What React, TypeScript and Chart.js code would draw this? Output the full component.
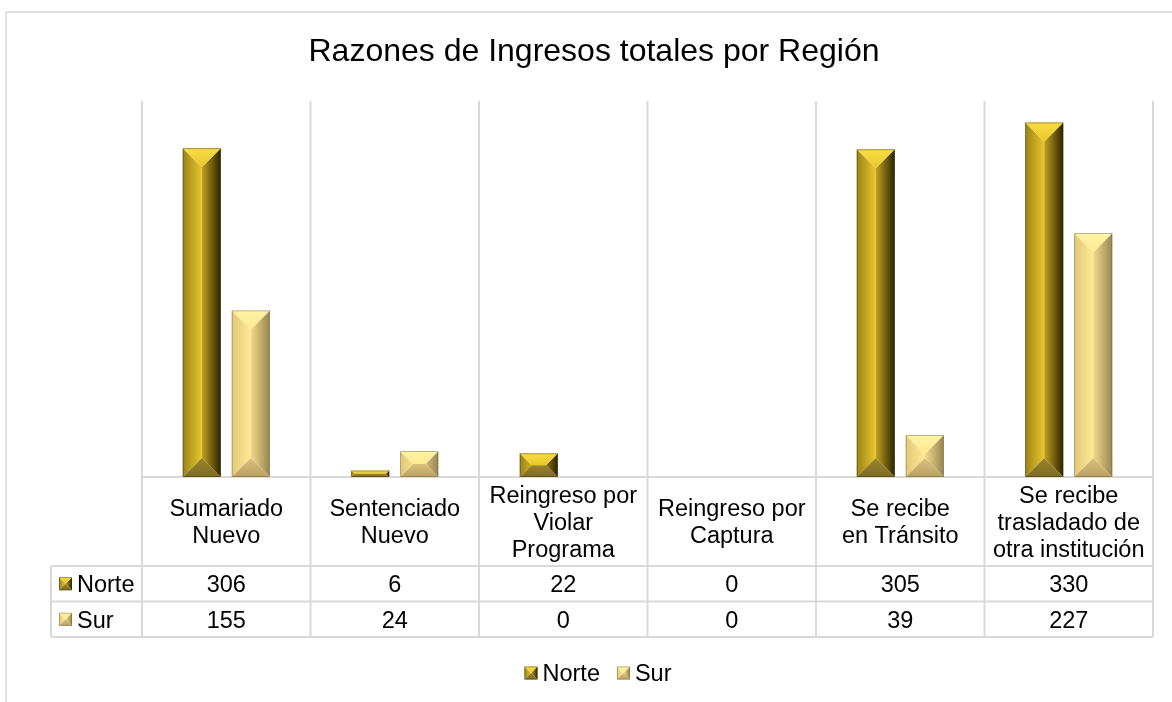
import React, { useEffect, useRef } from "react";
import { Chart, registerables } from "chart.js";

Chart.register(...registerables);

// ---------- data ----------
const chartTitle = "Razones de Ingresos totales por Región";
const categoryLines: string[][] = [
  ["Sumariado", "Nuevo"],
  ["Sentenciado", "Nuevo"],
  ["Reingreso por", "Violar", "Programa"],
  ["Reingreso por", "Captura"],
  ["Se recibe", "en Tránsito"],
  ["Se recibe", "trasladado de", "otra institución"],
];
const categories = categoryLines.map((l) => l.join(" "));
const seriesNames = ["Norte", "Sur"];
const norteValues = [306, 6, 22, 0, 305, 330];
const surValues = [155, 24, 0, 0, 39, 227];
const yMax = 350;

// ---------- styles ----------
type Pal = {
  top0: string; top1: string;
  bot0: string; bot1: string;
  left0: string; left1: string;
  right0: string; right1: string;
  edge: string;
};
const palettes: Pal[] = [
  {
    top0: "#f8dc44", top1: "#e9c62a",
    bot0: "#9a852a", bot1: "#7c6a24",
    left0: "#9a8318", left1: "#e8c72b",
    right0: "#c2a221", right1: "#2c2400",
    edge: "rgba(60,50,0,0.55)",
  },
  {
    top0: "#fff3a6", top1: "#ffe98e",
    bot0: "#d9c17a", bot1: "#b9a063",
    left0: "#e2c77a", left1: "#ffea92",
    right0: "#f2da8a", right1: "#9a8452",
    edge: "rgba(110,95,50,0.55)",
  },
];
const FONT = "'Liberation Sans', Arial, sans-serif";
const GRID = "#d9d9d9";

function drawBevel(ctx: CanvasRenderingContext2D, L: number, T: number, R: number, B: number, p: Pal) {
  const w = R - L;
  const h = B - T;
  if (w <= 0 || h <= 0.5) return;
  const d = Math.min(w, h) / 2;
  const cx = (L + R) / 2;
  const cy = (T + B) / 2;
  const vertical = h >= w;
  const a: [number, number] = vertical ? [cx, T + d] : [L + d, cy];
  const b: [number, number] = vertical ? [cx, B - d] : [R - d, cy];
  const TL = a;
  const TR = vertical ? a : b;
  const BL = vertical ? b : a;
  const BR = b;
  const poly = (pts: number[][], fill: string | CanvasGradient) => {
    ctx.beginPath();
    ctx.moveTo(pts[0][0], pts[0][1]);
    for (let i = 1; i < pts.length; i++) ctx.lineTo(pts[i][0], pts[i][1]);
    ctx.closePath();
    ctx.fillStyle = fill;
    ctx.fill();
  };
  ctx.save();
  // left
  let g = ctx.createLinearGradient(L, 0, cx, 0);
  g.addColorStop(0, p.left0);
  g.addColorStop(1, p.left1);
  poly([[L, B], [L, T], TL, BL], g);
  // right
  g = ctx.createLinearGradient(cx, 0, R, 0);
  g.addColorStop(0, p.right0);
  g.addColorStop(1, p.right1);
  poly([[R, T], [R, B], BR, TR], g);
  // top
  g = ctx.createLinearGradient(0, T, 0, T + d);
  g.addColorStop(0, p.top0);
  g.addColorStop(1, p.top1);
  poly([[L, T], [R, T], TR, TL], g);
  // bottom
  g = ctx.createLinearGradient(0, B - d, 0, B);
  g.addColorStop(0, p.bot0);
  g.addColorStop(1, p.bot1);
  poly([[R, B], [L, B], BL, BR], g);
  ctx.strokeStyle = p.edge;
  ctx.lineWidth = 0.8;
  ctx.strokeRect(L + 0.4, T + 0.4, w - 0.8, h - 0.8);
  ctx.restore();
}

const tablePlugin = {
  id: "tablePlugin",
  beforeDatasetsDraw(chart: any) {
    const ctx: CanvasRenderingContext2D = chart.ctx;
    const area = chart.chartArea;
    const xs = chart.scales.x;
    const n = categories.length;
    const half = (xs.getPixelForValue(1) - xs.getPixelForValue(0)) / 2;
    const bounds: number[] = [];
    for (let i = 0; i < n; i++) bounds.push(xs.getPixelForValue(i) - half);
    bounds.push(xs.getPixelForValue(n - 1) + half);
    const headerBottom = area.bottom + 89;
    const rowH = 35.5;
    const tableBottom = headerBottom + rowH * 2;
    const labelLeft = 51;

    ctx.save();
    // outer frame
    ctx.strokeStyle = GRID;
    ctx.lineWidth = 1.6;
    ctx.strokeRect(6, 12, 1400, 900);

    ctx.strokeStyle = GRID;
    ctx.lineWidth = 2;
    ctx.beginPath();
    bounds.forEach((x) => {
      ctx.moveTo(x, area.top);
      ctx.lineTo(x, tableBottom);
    });
    ctx.moveTo(bounds[0], area.bottom);
    ctx.lineTo(bounds[n], area.bottom);
    for (let r = 0; r <= 2; r++) {
      const y = headerBottom + rowH * r;
      ctx.moveTo(labelLeft, y);
      ctx.lineTo(bounds[n], y);
    }
    ctx.moveTo(labelLeft, headerBottom);
    ctx.lineTo(labelLeft, tableBottom);
    ctx.stroke();
    ctx.restore();
  },
  afterDatasetsDraw(chart: any) {
    const ctx: CanvasRenderingContext2D = chart.ctx;
    chart.data.datasets.forEach((_: any, di: number) => {
      const meta = chart.getDatasetMeta(di);
      meta.data.forEach((el: any) => {
        const { x, y, base, width } = el.getProps(["x", "y", "base", "width"], true);
        drawBevel(ctx, x - width / 2, Math.min(y, base), x + width / 2, Math.max(y, base), palettes[di]);
      });
    });
  },
  afterDraw(chart: any) {
    const ctx: CanvasRenderingContext2D = chart.ctx;
    const area = chart.chartArea;
    const xs = chart.scales.x;
    const headerBottom = area.bottom + 89;
    const rowH = 35.5;
    const fs = 23.5;
    const baseOff = 8.4;
    ctx.save();
    ctx.fillStyle = "#000";
    // title
    ctx.font = `32px ${FONT}`;
    ctx.textAlign = "center";
    ctx.textBaseline = "alphabetic";
    ctx.fillText(chartTitle, 594, 61);

    // header
    ctx.font = `${fs}px ${FONT}`;
    const headerMid = (area.bottom + headerBottom) / 2;
    categoryLines.forEach((lines, i) => {
      const x = xs.getPixelForValue(i);
      lines.forEach((t, k) => {
        const y = headerMid + (k - (lines.length - 1) / 2) * 27 + baseOff;
        ctx.fillText(t, x, y);
      });
    });

    // value rows
    const rows = [norteValues, surValues];
    rows.forEach((vals, r) => {
      const cy = headerBottom + rowH * r + rowH / 2;
      ctx.textAlign = "center";
      vals.forEach((v, i) => {
        ctx.fillText(String(v), xs.getPixelForValue(i), cy + baseOff);
      });
      drawBevel(ctx, 59, cy - 6.5, 72, cy + 6.5, palettes[r]);
      ctx.textAlign = "left";
      ctx.fillText(seriesNames[r], 77, cy + baseOff);
    });

    // legend
    const ly = 673;
    const widths = seriesNames.map((s) => ctx.measureText(s).width);
    const box = 13;
    const gap = 5;
    const itemGap = 17;
    const total = widths.reduce((s, w) => s + box + gap + w, 0) + itemGap * (seriesNames.length - 1);
    let lx = 598 - total / 2;
    seriesNames.forEach((s, i) => {
      drawBevel(ctx, lx, ly - 6.5, lx + box, ly + 6.5, palettes[i]);
      ctx.textAlign = "left";
      ctx.fillText(s, lx + box + gap, ly + baseOff);
      lx += box + gap + widths[i] + itemGap;
    });
    ctx.restore();
  },
};

export default function App() {
  const ref = useRef<HTMLCanvasElement | null>(null);
  useEffect(() => {
    if (!ref.current) return;
    const chart = new Chart(ref.current, {
      type: "bar",
      data: {
        labels: categories,
        datasets: [
          { label: seriesNames[0], data: norteValues, backgroundColor: "rgba(0,0,0,0)", borderWidth: 0 },
          { label: seriesNames[1], data: surValues, backgroundColor: "rgba(0,0,0,0)", borderWidth: 0 },
        ],
      },
      options: {
        animation: false,
        responsive: false,
        devicePixelRatio: 1,
        layout: { padding: { left: 142, right: 19, top: 101, bottom: 225 } },
        datasets: { bar: { categoryPercentage: 0.5816, barPercentage: 0.7755 } },
        scales: {
          x: { display: false },
          y: { display: false, min: 0, max: yMax },
        },
        plugins: {
          legend: { display: false },
          title: { display: false },
          tooltip: { enabled: false },
        },
      },
      plugins: [tablePlugin],
    });
    return () => chart.destroy();
  }, []);
  return (
    <div style={{ position: "absolute", left: 0, top: 0, width: 1172, height: 702, background: "#fff" }}>
      <canvas ref={ref} width={1172} height={702} />
    </div>
  );
}
